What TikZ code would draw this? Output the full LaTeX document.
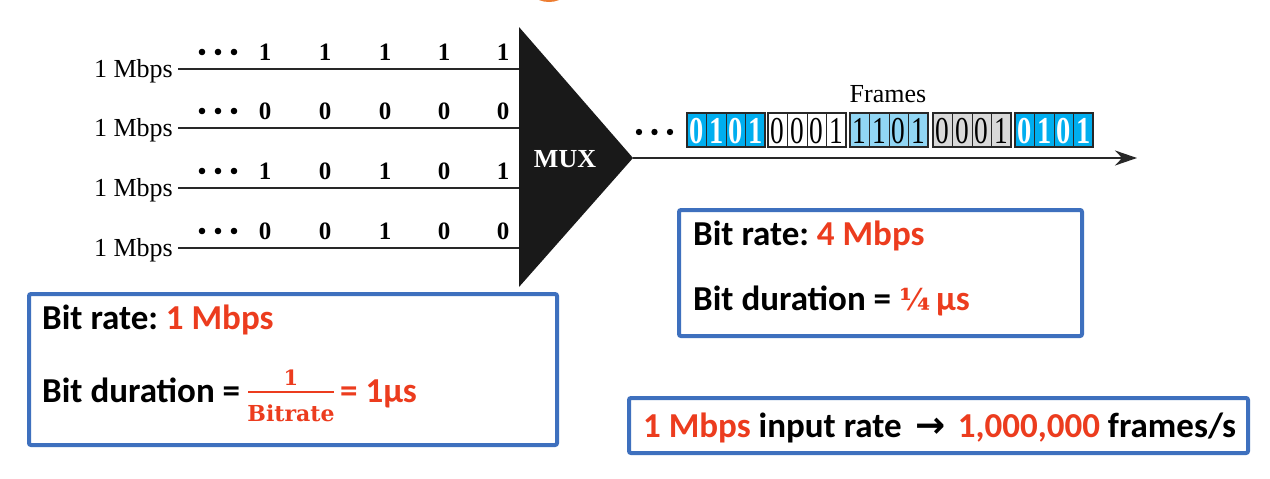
\documentclass[tikz,border=0pt]{standalone}
\usepackage{fontspec}
\setmainfont{Liberation Serif}
\newfontfamily\calfont{Carlito}
\newfontfamily\djfont{DejaVu Sans}
\newfontfamily\dsfont{DejaVu Serif}
\usetikzlibrary{arrows.meta}
\definecolor{txtred}{RGB}{236,60,30}
\definecolor{boxblue}{RGB}{62,112,190}
\definecolor{cyanf}{RGB}{0,174,239}
\definecolor{lblue}{RGB}{145,214,244}
\definecolor{lgray}{RGB}{217,217,217}
\definecolor{orng}{RGB}{237,125,49}
\definecolor{dk}{RGB}{40,40,40}
\frenchspacing
\tikzset{
  ratelab/.style={anchor=base east,inner sep=0pt,font=\fontsize{26}{30}\selectfont},
  bitlab/.style={anchor=base,inner sep=0pt,font=\fontsize{25}{30}\selectfont\bfseries},
  inline/.style={line width=2.4pt,draw=dk},
  infobox/.style={draw=boxblue,line width=4pt,rounded corners=2pt,fill=white},
  infotext/.style={anchor=base west,inner sep=0pt,font=\calfont\bfseries\fontsize{35}{40}\selectfont},
  cellbox/.style={draw=dk,line width=1pt},
  groupbox/.style={draw=dk,line width=2pt},
  celldigit/.style={anchor=base,inner sep=0pt,font=\fontsize{38}{44}\selectfont}
}
\begin{document}
\begin{tikzpicture}[x=1pt,y=-1pt]
\useasboundingbox (0,0) rectangle (1270,479);
\clip (0,0) rectangle (1270,479);
\fill[white] (0,0) rectangle (1270,479);
% orange sliver at top
\fill[orng] (549,-20) ellipse (24 and 22);

% MUX triangle
\coordinate (mt) at (519,27);
\coordinate (mb) at (519,287);
\coordinate (apex) at (633,158);
\fill[black!90] (mt) -- (mb) -- (apex) -- cycle;
\node[anchor=base,text=white,font=\fontsize{26}{30}\selectfont\bfseries,inner sep=0pt] (mux) at (565,167) {MUX};

% input lines
\foreach \i/\y/\ba/\bb/\bc/\bd/\be in {1/69/1/1/1/1/1,2/128/0/0/0/0/0,3/188/1/0/1/0/1,4/248/0/0/1/0/0}{
  \node[ratelab] (lab\i) at (173,\y+8) {1 Mbps};
  \coordinate (s\i) at (178,\y);
  \coordinate (m\i) at (519,\y);
  \draw[inline] (s\i) -- (m\i);
  \foreach \dx in {202,218,234}{\fill (\dx,\y-17) circle (3.3);}
  \node[bitlab] (b\i a) at (265,\y-8.5) {\ba};
  \node[bitlab] (b\i b) at (325,\y-8.5) {\bb};
  \node[bitlab] (b\i c) at (385,\y-8.5) {\bc};
  \node[bitlab] (b\i d) at (444,\y-8.5) {\bd};
  \node[bitlab] (b\i e) at (503,\y-8.5) {\be};
}

% output line
\coordinate (outend) at (1137,158);
\draw[line width=2.4pt,draw=dk,-{Stealth[length=22pt,width=15pt]}] (apex) -- (outend);
\foreach \dx in {639,654.5,670}{\fill (\dx,132) circle (3.2);}
\node[anchor=base,inner sep=0pt,font=\fontsize{26}{30}\selectfont] (frames) at (888,102) {Frames};

% frames
\foreach \gx/\col/\bold/\dcol/\da/\db/\dc/\dd in {
  687/cyanf/1/white/0/1/0/1,
  768/white/0/black/0/0/0/1,
  850/lblue/0/black/1/1/0/1,
  933/lgray/0/black/0/0/0/1,
  1015/cyanf/1/white/0/1/0/1}{
  \foreach \k/\d in {0/\da,1/\db,2/\dc,3/\dd}{
    \filldraw[cellbox,fill=\col] (\gx+\k*19.5,113) rectangle (\gx+\k*19.5+19.5,147);
    \ifnum\bold=1
      \node[celldigit,text=\dcol,font=\fontsize{38}{44}\selectfont\bfseries] at (\gx+\k*19.5+9.75,143) {\scalebox{0.75}[1]{\d}};
    \else
      \node[celldigit,text=\dcol] at (\gx+\k*19.5+9.75,143) {\scalebox{0.72}[1]{\d}};
    \fi
  }
  \draw[groupbox] (\gx,113) rectangle (\gx+78,147);
}

% box A
\draw[infobox] (29,294) rectangle (557,445);
\node[infotext] (ra) at (42,329) {Bit rate: {\color{txtred}1 Mbps}};
\node[infotext] (da) at (42,402) {Bit duration =};
\node[anchor=base,inner sep=0pt,text=txtred,font=\dsfont\bfseries\fontsize{21}{25}\selectfont] (num) at (291,385) {1};
\coordinate (barl) at (248,392);
\coordinate (barr) at (334,392);
\draw[txtred,line width=1.8pt] (barl) -- (barr);
\node[anchor=base,inner sep=0pt,text=txtred,font=\dsfont\bfseries\fontsize{22}{25}\selectfont] (den) at (291,421) {Bitrate};
\node[infotext,text=txtred] (ea) at (340,402) {= 1µs};

% box B
\draw[infobox] (679,210) rectangle (1082,336);
\node[infotext] (rb) at (693,245) {Bit rate: {\color{txtred}4 Mbps}};
\node[infotext] (db) at (693,310) {Bit duration = {\color{txtred}{\dsfont\bfseries\fontsize{30}{34}\selectfont ¼}\,µs}};

% box C
\draw[infobox] (629,398) rectangle (1248,453);
\node[infotext] (cc) at (643,437) {{\color{txtred}1 Mbps} input rate\hspace{14pt}{\djfont\bfseries\fontsize{36}{40}\selectfont →}\hspace{12pt}{\color{txtred}1,000,000} frames/s};
\end{tikzpicture}
\end{document}
